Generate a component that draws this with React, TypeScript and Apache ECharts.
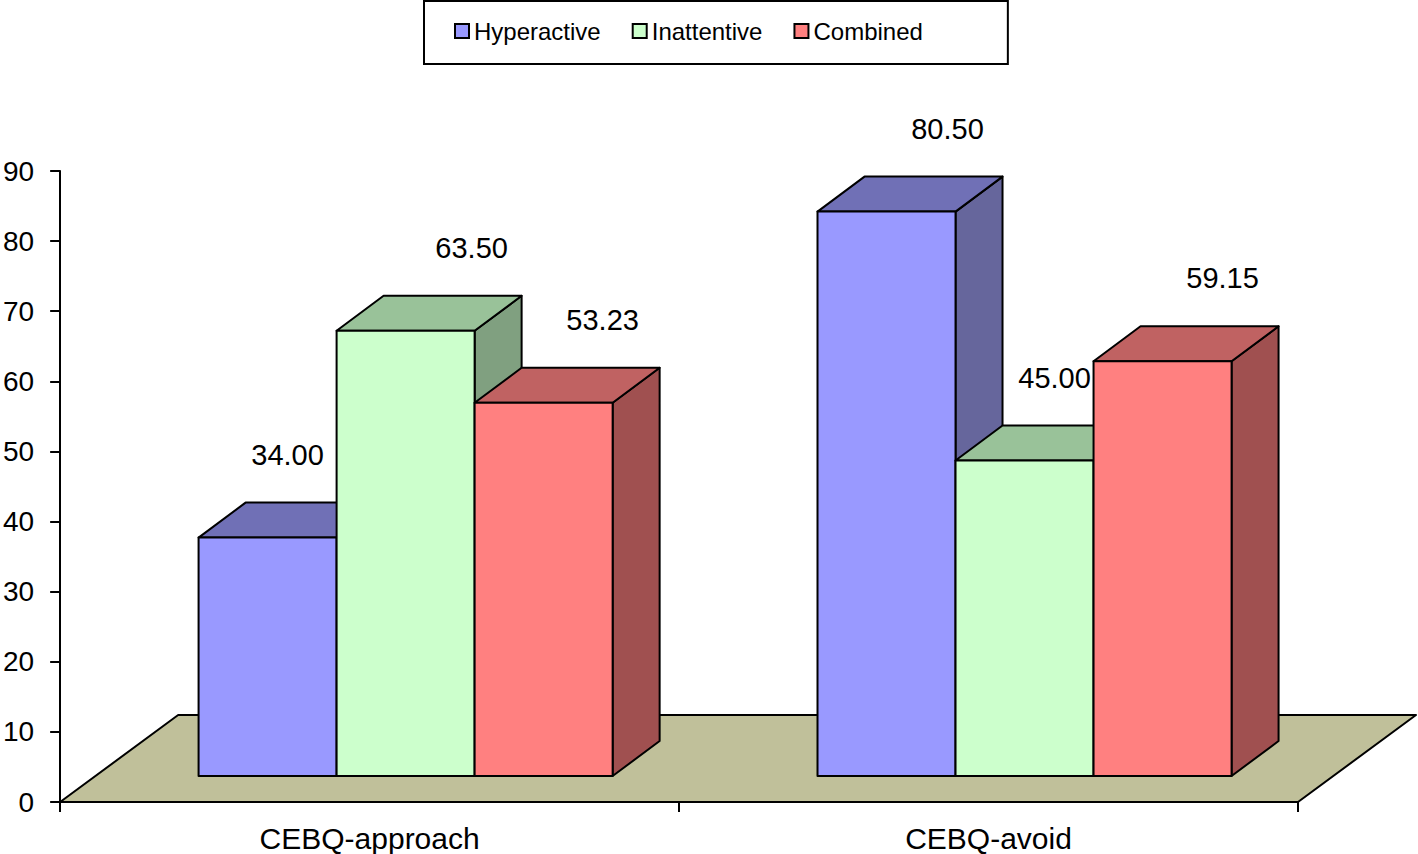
import React, { useEffect, useRef } from "react";
import * as echarts from "echarts";

const categories = ["CEBQ-approach", "CEBQ-avoid"];
const seriesNames = ["Hyperactive", "Inattentive", "Combined"];
const hyperactive = [34.0, 80.5];
const inattentive = [63.5, 45.0];
const combined = [53.23, 59.15];
const yTicks = { min: 0, max: 90, interval: 10 };

// styling
const palette = [
  { front: "#9999FF", top: "#7070B6", side: "#66669C" },
  { front: "#CCFFCC", top: "#99C299", side: "#80A080" },
  { front: "#FF8080", top: "#C06262", side: "#A05050" },
];
const labelNudgeX = [
  [20, 61],
  [66, 30],
  [59, 60],
];
const FONT = "'Liberation Sans', Arial, sans-serif";

export default function App() {
  const ref = useRef<HTMLDivElement>(null);
  useEffect(() => {
    if (!ref.current) return;
    const chart = echarts.init(ref.current, null, { renderer: "svg" });
    const allValues = [hyperactive, inattentive, combined];

    const DX = 47;
    const DY = -35;
    const baseShiftX = 36;
    const baseShiftY = -26;

    const makeBarSeries = (s: number) => ({
      type: "custom",
      name: seriesNames[s],
      itemStyle: { color: palette[s].front, borderColor: "#000", borderWidth: 2 },
      data: allValues[s].map((v, i) => [i, v]),
      renderItem: (params: any, api: any) => {
        const i = api.value(0);
        const v = api.value(1);
        const base = api.coord([i, 0]);
        const band = api.size([1, 0])[0];
        const ppu = api.size([0, 1])[1];
        const barW = band * 0.223;
        const x0 = base[0] + baseShiftX + (s - 1.5) * barW;
        const y0 = base[1] + baseShiftY;
        const yTop = y0 - v * ppu;
        const stroke = { stroke: "#000", lineWidth: 2, lineJoin: "round" };
        return {
          type: "group",
          children: [
            {
              type: "polygon",
              shape: {
                points: [
                  [x0 + barW, yTop],
                  [x0 + barW + DX, yTop + DY],
                  [x0 + barW + DX, y0 + DY],
                  [x0 + barW, y0],
                ],
              },
              style: { fill: palette[s].side, ...stroke },
            },
            {
              type: "polygon",
              shape: {
                points: [
                  [x0, yTop],
                  [x0 + DX, yTop + DY],
                  [x0 + barW + DX, yTop + DY],
                  [x0 + barW, yTop],
                ],
              },
              style: { fill: palette[s].top, ...stroke },
            },
            {
              type: "rect",
              shape: { x: x0, y: yTop, width: barW, height: y0 - yTop },
              style: { fill: palette[s].front, ...stroke },
            },
            {
              type: "text",
              x: x0 + barW / 2 + labelNudgeX[s][i],
              y: yTop - 83,
              style: {
                text: v.toFixed(2),
                fill: "#000",
                font: `29px ${FONT}`,
                align: "center",
                verticalAlign: "middle",
              },
            },
          ],
        };
      },
    });

    const floorSeries = {
      type: "custom",
      name: "floor",
      silent: true,
      data: [[0, 0]],
      renderItem: (params: any, api: any) => {
        const cs = params.coordSys;
        const fx = cs.x;
        const fy = cs.y + cs.height;
        const fw = cs.width;
        return {
          type: "polygon",
          shape: {
            points: [
              [fx, fy],
              [fx + 118, fy - 87],
              [fx + fw + 118, fy - 87],
              [fx + fw, fy],
            ],
          },
          style: { fill: "#C0C09A", stroke: "#000", lineWidth: 2, lineJoin: "round" },
        };
      },
    };

    chart.setOption({
      animation: false,
      textStyle: { fontFamily: FONT },
      legend: {
        left: 424,
        top: 1,
        data: seriesNames.map((n, s) => ({
          name: n,
          icon: "rect",
          itemStyle: { color: palette[s].front, borderColor: "#000", borderWidth: 2 },
        })),
        itemWidth: 14,
        itemHeight: 14,
        itemGap: 31,
        padding: [18, 85, 21, 30],
        borderColor: "#000",
        borderWidth: 2,
        textStyle: { fontSize: 24, color: "#000", fontFamily: FONT },
        selectedMode: false,
      },
      grid: { left: 60, right: 120, top: 171, bottom: 52 },
      xAxis: {
        type: "category",
        data: categories,
        boundaryGap: true,
        axisLine: { show: true, lineStyle: { color: "#000", width: 2 } },
        axisTick: { show: true, length: 10, lineStyle: { color: "#000", width: 2 } },
        axisLabel: { fontSize: 30, color: "#000", margin: 21, fontFamily: FONT },
        z: 10,
      },
      yAxis: {
        type: "value",
        min: yTicks.min,
        max: yTicks.max,
        interval: yTicks.interval,
        axisLine: { show: true, lineStyle: { color: "#000", width: 2 } },
        axisTick: { show: true, length: 10, lineStyle: { color: "#000", width: 2 } },
        axisLabel: { fontSize: 28, color: "#000", margin: 26, fontFamily: FONT },
        splitLine: { show: false },
        z: 10,
      },
      series: [floorSeries, makeBarSeries(0), makeBarSeries(1), makeBarSeries(2)],
    });
    return () => chart.dispose();
  }, []);
  return (
    <div
      ref={ref}
      style={{ position: "absolute", left: 0, top: 0, width: 1418, height: 854, background: "#fff" }}
    />
  );
}
